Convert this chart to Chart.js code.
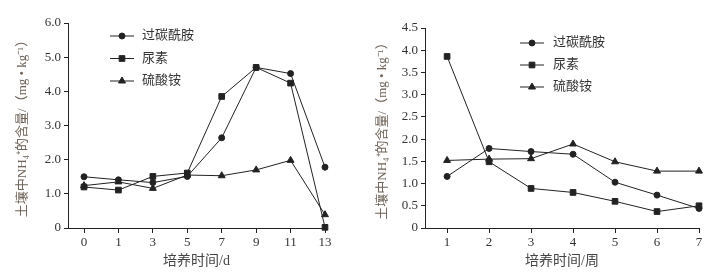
<!DOCTYPE html>
<html>
<head>
<meta charset="utf-8">
<script src="https://cdn.jsdelivr.net/npm/chart.js@4/dist/chart.umd.min.js"></script>
<style>
  body { margin: 0; background: #fff; }
  .wrap { display: flex; width: 724px; height: 276px; }
  canvas { display: block; }
</style>
</head>
<body>
<div class="wrap">
  <canvas id="dayChart" width="362" height="276"></canvas>
  <canvas id="weekChart" width="362" height="276"></canvas>
</div>
<script>
// 培养时间 (d) 和 (周)
const dayLabels = ['0', '1', '3', '5', '7', '9', '11', '13'];
const weekLabels = ['1', '2', '3', '4', '5', '6', '7'];

const seriesNames = ['过碳酰胺', '尿素', '硫酸铵'];

// 土壤中NH4+含量, 按天
const percarbamideDay = [1.50, 1.41, 1.33, 1.51, 2.64, 4.70, 4.52, 1.78];
const ureaDay = [1.20, 1.11, 1.51, 1.61, 3.85, 4.70, 4.24, 0.02];
const ammSulfateDay = [1.24, 1.35, 1.16, 1.55, 1.53, 1.70, 1.98, 0.39];

// 按周
const percarbamideWeek = [1.16, 1.79, 1.72, 1.66, 1.03, 0.74, 0.44];
const ureaWeek = [3.86, 1.49, 0.89, 0.80, 0.60, 0.37, 0.50];
const ammSulfateWeek = [1.52, 1.55, 1.56, 1.89, 1.49, 1.28, 1.28];

const serif = '"Liberation Serif", "Noto Sans CJK SC", serif';
const ink = '#222';
const styles = ['circle', 'rect', 'triangle'];
const radii = [3, 4, 4];

// legend: short line with the marker in the middle, then the name
const lineLegend = {
  id: 'lineLegend',
  afterDraw(chart, args, opts) {
    const ctx = chart.ctx;
    ctx.save();
    chart.data.datasets.forEach(function (ds, i) {
      let y = opts.y + i * opts.gap;
      ctx.strokeStyle = ink;
      ctx.lineWidth = 1;
      ctx.beginPath();
      ctx.moveTo(opts.x, y);
      ctx.lineTo(opts.x + opts.len, y);
      ctx.stroke();
      ctx.fillStyle = ink;
      Chart.helpers.drawPoint(ctx, {pointStyle: styles[i], radius: radii[i], borderWidth: 1}, opts.x + opts.len / 2, y);
      ctx.fillStyle = '#333';
      ctx.font = '13px ' + serif;
      ctx.textBaseline = 'middle';
      ctx.textAlign = 'left';
      ctx.fillText(ds.label, opts.textX, y);
    });
    ctx.restore();
  }
};

function makeSets(xs, lists) {
  return lists.map(function (vals, i) {
    return {
      label: seriesNames[i],
      data: vals.map((v, j) => ({x: xs[j], y: v})),
      borderColor: ink,
      backgroundColor: ink,
      borderWidth: 1,
      pointStyle: styles[i],
      pointRadius: radii[i],
      pointBorderWidth: 1,
      tension: 0,
      clip: false
    };
  });
}

function drawChart(id, cfg) {
  const tickFont = {family: serif, size: 13};
  new Chart(document.getElementById(id), {
    type: 'line',
    data: {datasets: makeSets(cfg.xs, cfg.lists)},
    options: {
      responsive: false,
      animation: false,
      layout: {padding: cfg.padding},
      plugins: {
        legend: {display: false},
        tooltip: {enabled: false},
        lineLegend: cfg.legend
      },
      scales: {
        x: {
          type: 'linear',
          min: cfg.xMin,
          max: cfg.xMax,
          afterBuildTicks: function (scale) {
            scale.ticks = cfg.xs.map(v => ({value: v}));
          },
          afterFit: function (scale) { scale.height = 48; },
          border: {display: true, color: ink, width: 1},
          grid: {drawOnChartArea: false, drawTicks: true, tickLength: 5, color: ink},
          ticks: {
            font: tickFont, color: '#333', padding: 2, maxRotation: 0,
            callback: function (v) { return cfg.labels[cfg.xs.indexOf(v)]; }
          },
          title: {display: true, text: cfg.xTitle, font: {family: serif, size: 14}, color: '#444', padding: {top: 0, bottom: 6}}
        },
        y: {
          min: 0,
          max: cfg.yMax,
          afterFit: function (scale) { scale.width = cfg.yWidth; },
          border: {display: true, color: ink, width: 1},
          grid: {drawOnChartArea: false, drawTicks: true, tickLength: 4, color: ink},
          ticks: {
            stepSize: cfg.yStep, font: tickFont, color: '#333', padding: 3,
            callback: function (v) { return v === 0 ? '0' : v.toFixed(1); }
          },
          title: {display: true, text: '土壤中NH₄⁺的含量/（mg • kg⁻¹）', font: {family: serif, size: 13}, color: '#6e6358', padding: {top: cfg.yTitlePad, bottom: 0}}
        }
      }
    },
    plugins: [lineLegend]
  });
}

drawChart('dayChart', {
  xs: dayLabels.map((_, i) => i),
  labels: dayLabels,
  lists: [percarbamideDay, ureaDay, ammSulfateDay],
  xMin: -0.465, xMax: 7,
  yMax: 6, yStep: 1,
  yWidth: 68, yTitlePad: 15,
  padding: {left: 0, top: 23, right: 37, bottom: 0},
  xTitle: '培养时间/d',
  legend: {x: 110, y: 36, gap: 22.5, len: 24, textX: 142}
});

drawChart('weekChart', {
  xs: weekLabels.map(Number),
  labels: weekLabels,
  lists: [percarbamideWeek, ureaWeek, ammSulfateWeek],
  xMin: 0.474, xMax: 7,
  yMax: 4.5, yStep: 0.5,
  yWidth: 63, yTitlePad: 13,
  padding: {left: 0, top: 28, right: 25, bottom: 0},
  xTitle: '培养时间/周',
  legend: {x: 158, y: 43, gap: 22, len: 24, textX: 191}
});
</script>
</body>
</html>
